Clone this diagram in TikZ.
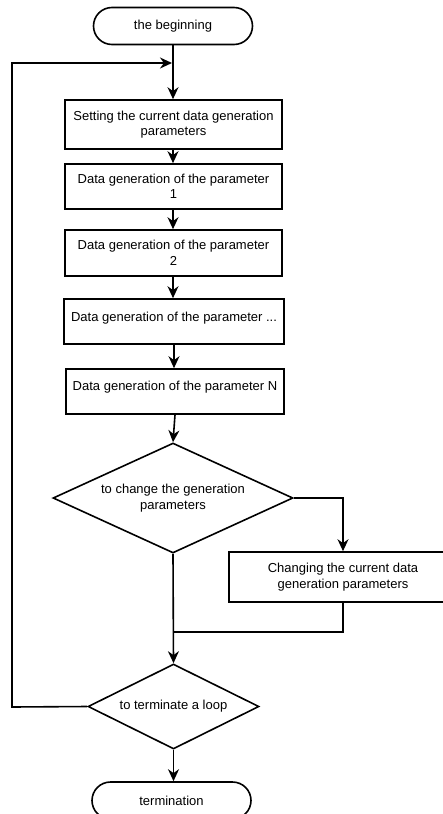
\documentclass[tikz,border=0pt]{standalone}
\usepackage{fontspec}
\setmainfont{Liberation Sans}
\usetikzlibrary{shapes.geometric,shapes.misc,arrows.meta}
\begin{document}
\begin{tikzpicture}[x=1pt,y=-1pt,
  every node/.style={font=\fontsize{13}{15.5}\selectfont, align=center, inner sep=0pt},
  term/.style={draw, rounded rectangle, minimum width=159pt, minimum height=37pt, line width=1.6pt},
  procbox/.style={draw, rectangle, line width=1.6pt},
  decide/.style={draw, diamond, aspect=2, line width=1.6pt},
  conn/.style={line width=1.6pt},
  arr/.style={conn, -{Stealth[length=12pt,width=11pt]}}]
\clip (0,0) rectangle (443,814);
\node[term] (start) at (173,26) {the beginning};
\node[procbox, minimum width=217pt, minimum height=49pt] (b1) at (173.5,124.5) {Setting the current data generation\\parameters};
\node[procbox, minimum width=217pt, minimum height=45pt] (b2) at (173.5,186.5) {Data generation of the parameter\\1};
\node[procbox, minimum width=217pt, minimum height=46pt] (b3) at (173.5,253) {Data generation of the parameter\\2};
\node[procbox, minimum width=220pt, minimum height=45pt, text height=9.4pt, text depth=9.7pt] (b4) at (174,321.5) {Data generation of the parameter ...};
\node[procbox, minimum width=218pt, minimum height=45pt, text height=9.4pt, text depth=11.5pt] (b5) at (175,391.5) {Data generation of the parameter N};
\node[decide, minimum width=240pt, minimum height=110pt] (d1) at (173,498) {to change the generation\\parameters};
\node[procbox, minimum width=228pt, minimum height=50pt] (b6) at (343,577) {Changing the current data\\generation parameters};
\node[decide, minimum width=171pt, minimum height=85pt] (d2) at (173.5,706.5) {to terminate a loop};
\node[term] (end) at (171.5,800.5) {termination};
\coordinate (j) at (173,63);
\coordinate (m) at (173,632);
\coordinate (lb) at (12,707);
\coordinate (lt) at (12,63);
\draw[arr] (start.south) -- (b1.north -| start.south);
\draw[arr] (b1.south -| start.south) -- (b2.north -| start.south);
\draw[arr] (b2.south -| start.south) -- (b3.north -| start.south);
\draw[arr] (b3.south -| start.south) -- (b4.north -| start.south);
\draw[arr] (b4.south) -- (b5.north -| b4.south);
\draw[arr] (b5.south) -- (d1.north);
\draw[arr] (d1.east) -| (b6.north);
\draw[arr] (d1.south) -- (d2.north);
\draw[conn] (b6.south) |- (m);
\draw[arr] (d2.south) -- (end.north -| d2.south);
\draw[arr] (d2.west) -- (lb) -- (lt) -- ([xshift=-1pt]j);
\end{tikzpicture}
\end{document}
